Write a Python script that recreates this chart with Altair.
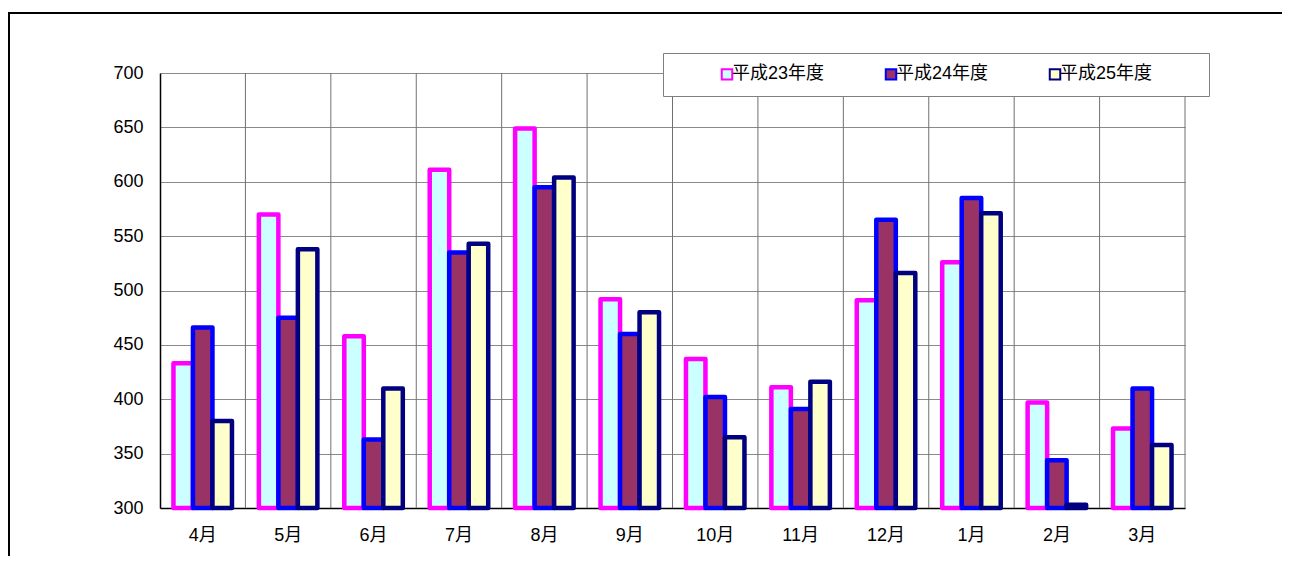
import altair as alt
import pandas as pd

months = ["4月", "5月", "6月", "7月", "8月", "9月", "10月", "11月", "12月", "1月", "2月", "3月"]
series = ["平成23年度", "平成24年度", "平成25年度"]
h23 = [433, 570, 458, 611, 649, 492, 437, 411, 491, 526, 397, 373]
h24 = [466, 475, 363, 535, 595, 460, 402, 391, 565, 585, 344, 410]
h25 = [380, 538, 410, 543, 604, 480, 365, 416, 516, 571, 303, 358]
fills = ["#CCFFFF", "#993366", "#FFFFCC"]
strokes = ["#FF00FF", "#0000FF", "#000080"]
y_ticks = [300, 350, 400, 450, 500, 550, 600, 650, 700]

FONT = "Liberation Sans, Noto Sans CJK JP, sans-serif"

rows = []
for i, m in enumerate(months):
    for s, vals in zip(series, [h23, h24, h25]):
        rows.append({"month": m, "series": s, "value": vals[i]})
df = pd.DataFrame(rows)
df_m = pd.DataFrame({"month": months})

X0, X1 = 151, 1176
P_IN = 0.315
P_OUT = P_IN / 2
STEP = (X1 - X0) / len(months)

xscale = alt.Scale(domain=months, range=[X0, X1], paddingInner=P_IN, paddingOuter=P_OUT, round=False)
yscale = alt.Scale(domain=[300, 700], range=[495, 60], nice=False, zero=False)

xaxis = alt.Axis(offset=-105, grid=False, ticks=False, tickSize=0, domainColor="black", domainWidth=1.5,
                 labelPadding=18, labelFontSize=18, labelFont=FONT, labelColor="black", labelAngle=0,
                 title=None)
yaxis = alt.Axis(values=y_ticks, offset=-151, grid=True, gridColor="#8a8a8a", gridWidth=1,
                 domainColor="black", domainWidth=1.5, ticks=False, tickSize=0, labelPadding=17,
                 labelFontSize=18, labelFont=FONT, labelColor="black", title=None)

leg = alt.Legend(orient="none", legendX=654, legendY=40, direction="horizontal",
                 title="平平", titleColor="white", titleOrient="right", titlePadding=9,
                 titleFontSize=18, titleFont=FONT,
                 padding=12, fillColor="white", strokeColor="#808080",
                 symbolType="square", symbolSize=110, symbolStrokeWidth=2,
                 symbolOffset=43, labelOffset={"expr": "-4"},
                 labelFontSize=18, labelFont=FONT, labelColor="black",
                 columnPadding=14)

# vertical gridlines at the category boundaries (end of each band + outer padding)
rules = alt.Chart(df_m).mark_rule(color="#707070", strokeWidth=1, xOffset=P_OUT * STEP).encode(
    x=alt.X("month:N", sort=months, scale=xscale, axis=xaxis, bandPosition=1),
    y=alt.Y(datum=700, type="quantitative", scale=yscale, axis=yaxis),
    y2=alt.Y2(datum=300),
)

bars = alt.Chart(df).mark_bar(strokeWidth=4.5, strokeJoin="round").encode(
    x=alt.X("month:N", sort=months, scale=xscale, axis=xaxis),
    xOffset=alt.XOffset("series:N", sort=series, scale=alt.Scale(domain=series, paddingInner=0, paddingOuter=0)),
    y=alt.Y("value:Q", scale=yscale, axis=yaxis),
    y2=alt.Y2(datum=300),
    fill=alt.Fill("series:N", sort=series, scale=alt.Scale(domain=series, range=fills), legend=leg),
    stroke=alt.Stroke("series:N", sort=series, scale=alt.Scale(domain=series, range=strokes), legend=leg),
)

chart = alt.layer(rules, bars).properties(
    width=1300,
    height=600,
    autosize=alt.AutoSizeParams(type="none"),
    padding={"left": 1, "top": 5, "right": -27, "bottom": -57},
    background="white",
).configure_view(stroke="black", strokeWidth=2)

chart.save("out.html", embed_options={"renderer": "svg", "actions": False})
